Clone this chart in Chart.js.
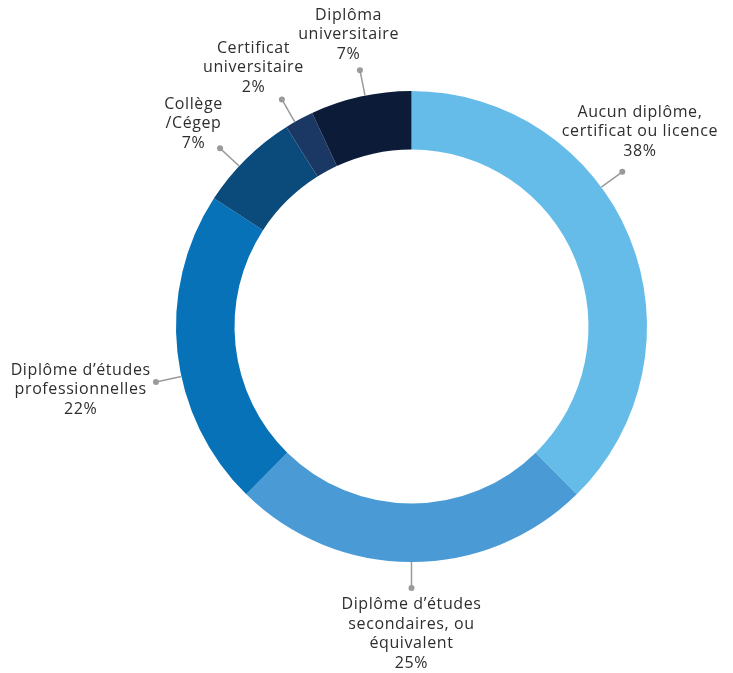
<!DOCTYPE html>
<html>
<head>
<meta charset="utf-8">
<script src="https://cdn.jsdelivr.net/npm/chart.js@4"></script>
<style>
  html, body { margin: 0; padding: 0; background: #fff; }
  #wrap { width: 733px; height: 673px; }
</style>
</head>
<body>
<div id="wrap"><canvas id="donut"></canvas></div>
<script>
// Répartition par plus haut diplôme obtenu
const categories = [
    ["Aucun diplôme,", "certificat ou licence"],
    ["Diplôme d’études", "secondaires, ou", "équivalent"],
    ["Diplôme d’études", "professionnelles"],
    ["Collège", "/Cégep"],
    ["Certificat", "universitaire"],
    ["Diplôma", "universitaire"]
];
const values = [38, 25, 22, 7, 2, 7];
const colors = ["#66bce9", "#4a9bd5", "#0872b8", "#0a4b7c", "#1a3863", "#0b1b38"];

// small nudges (degrees) of the leader lines so labels don't crowd the edges
const leaderNudge = [-14, 0, -6, -2.5, -1.2, 1.1];

const FONT = "16px 'Open Sans'";
const LINE_H = 19.5;

// labels outside the ring with a small leader line and dot
const outLabels = {
    id: 'outLabels',
    afterDatasetsDraw(chart) {
        const ctx = chart.ctx;
        const meta = chart.getDatasetMeta(0);
        ctx.save();
        ctx.font = FONT;
        ctx.letterSpacing = '0.6px';
        meta.data.forEach((arc, i) => {
            const p = arc.getProps(['x', 'y', 'startAngle', 'endAngle', 'outerRadius'], true);
            const lines = categories[i].concat([values[i] + '%']);
            const w = Math.max(...lines.map(l => ctx.measureText(l).width));
            const h = lines.length * LINE_H;
            const gap = 7;
            const a = (p.startAngle + p.endAngle) / 2 + leaderNudge[i] * Math.PI / 180;
            const ux = Math.cos(a), uy = Math.sin(a);
            const dot = { x: p.x + ux * (p.outerRadius + 26), y: p.y + uy * (p.outerRadius + 26) };
            let cx = dot.x + ux * (w / 2 + gap);
            let cy = dot.y + uy * (h / 2 + gap);
            const maxX = chart.width - 15 - w / 2;
            if (cx > maxX) {
                cx = maxX;
                cy = dot.y + Math.sign(uy) * (h / 2 + gap + 4);
            }

            ctx.strokeStyle = '#9a9a9a';
            ctx.lineWidth = 1.5;
            ctx.beginPath();
            ctx.moveTo(p.x + ux * p.outerRadius, p.y + uy * p.outerRadius);
            ctx.lineTo(dot.x, dot.y);
            ctx.stroke();
            ctx.fillStyle = '#9a9a9a';
            ctx.beginPath();
            ctx.arc(dot.x, dot.y, 3, 0, Math.PI * 2);
            ctx.fill();

            ctx.fillStyle = '#2e2e2e';
            ctx.textAlign = 'center';
            ctx.textBaseline = 'middle';
            lines.forEach((l, j) => {
                ctx.fillText(l, cx, cy - h / 2 + LINE_H / 2 + j * LINE_H);
            });
        });
        ctx.restore();
    }
};

new Chart(document.getElementById('donut'), {
    type: 'doughnut',
    data: {
        labels: categories,
        datasets: [{
            data: values,
            backgroundColor: colors,
            borderWidth: 0,
            hoverOffset: 0
        }]
    },
    options: {
        responsive: true,
        maintainAspectRatio: false,
        animation: false,
        radius: 235.5,
        cutout: 177,
        layout: { padding: { left: 150, right: 60, top: 91, bottom: 111 } },
        plugins: {
            legend: { display: false },
            tooltip: { enabled: false }
        }
    },
    plugins: [outLabels]
});
</script>
</body>
</html>
